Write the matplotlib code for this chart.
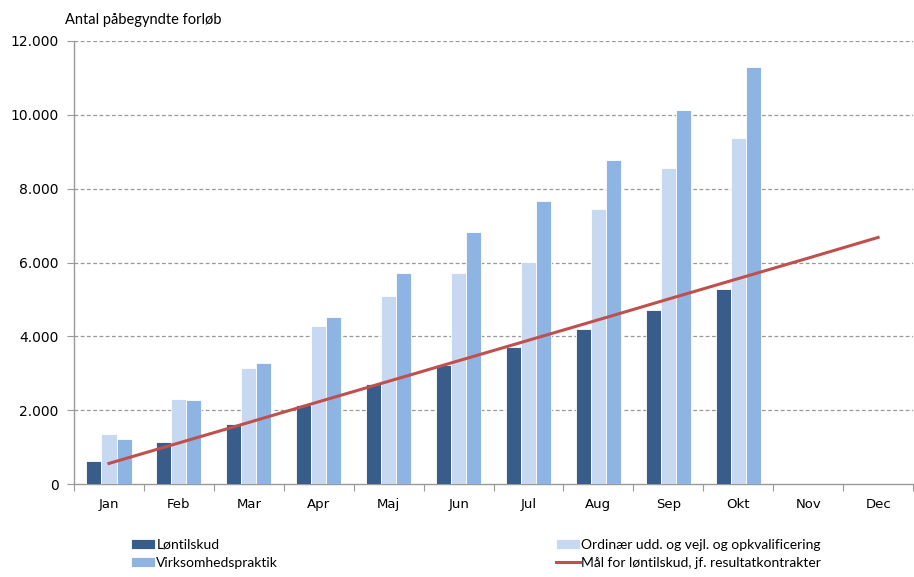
import numpy as np
import matplotlib.pyplot as plt
from matplotlib.ticker import FuncFormatter, FixedLocator

# --- Data ---
months = ["Jan", "Feb", "Mar", "Apr", "Maj", "Jun", "Jul", "Aug", "Sep", "Okt", "Nov", "Dec"]
loentilskud = [620, 1130, 1620, 2150, 2700, 3230, 3700, 4210, 4720, 5270]
ordinaer = [1350, 2300, 3150, 4280, 5100, 5710, 6010, 7450, 8560, 9370]
virksomhed = [1210, 2270, 3280, 4520, 5720, 6830, 7660, 8770, 10130, 11300]
maal = [560, 1115, 1670, 2230, 2785, 3340, 3895, 4450, 5010, 5565, 6120, 6680]

c_dark = "#385D8A"
c_light = "#C6D9F1"
c_mid = "#8EB4E3"
c_line = "#C0504D"

fig = plt.figure(figsize=(9.14, 5.77), dpi=100)
ax = fig.add_axes([0.081, 0.161, 0.918, 0.768])

x = np.arange(len(months))
n = len(loentilskud)
w = 0.215
b1 = ax.bar(x[:n] - w, loentilskud, w, color=c_dark, edgecolor="white", linewidth=0.6, zorder=3)
b2 = ax.bar(x[:n], ordinaer, w, color=c_light, edgecolor="white", linewidth=0.6, zorder=3)
b3 = ax.bar(x[:n] + w, virksomhed, w, color=c_mid, edgecolor="white", linewidth=0.6, zorder=3)
ln, = ax.plot(x, maal, color=c_line, linewidth=2.2, zorder=4)

ax.set_xlim(-0.5, len(months) - 0.5)
ax.set_ylim(0, 12000)
ax.set_yticks(np.arange(0, 12001, 2000))
ax.yaxis.set_major_formatter(FuncFormatter(lambda v, p: f"{int(v):,}".replace(",", ".")))
ax.grid(axis="y", color="#999999", linestyle=(0, (3, 2)), linewidth=0.9, zorder=0)
ygl = ax.get_ygridlines()
ygl[0].set_visible(False)

# x ticks at boundaries, labels at centres
ax.xaxis.set_major_locator(FixedLocator(np.arange(-0.5, len(months), 1.0)))
ax.xaxis.set_minor_locator(FixedLocator(x))
ax.set_xticklabels([])
ax.set_xticklabels(months, minor=True)
ax.tick_params(axis="x", which="major", length=5, color="#999999", direction="out")
ax.tick_params(axis="x", which="minor", length=0, pad=10, labelsize=9.5, labelcolor="black")
ax.tick_params(axis="y", length=5, color="#999999", labelsize=10, pad=6)

for s in ["top", "right"]:
    ax.spines[s].set_visible(False)
for s in ["left", "bottom"]:
    ax.spines[s].set_color("#999999")
    ax.spines[s].set_linewidth(1.0)

fig.text(0.071, 0.966, "Antal påbegyndte forløb", fontsize=10.5, family="Lato", ha="left", va="center")

fig.legend([b1, b3, b2, ln],
           ["Løntilskud", "Virksomhedspraktik",
            "Ordinær udd. og vejl. og opkvalificering",
            "Mål for løntilskud, jf. resultatkontrakter"],
           ncol=2, loc="lower left", bbox_to_anchor=(0.13, -0.008),
           frameon=False, prop={"family": "Lato", "size": 10},
           handlelength=1.7, handleheight=0.7, handletextpad=0.1,
           columnspacing=20, labelspacing=0.45)

fig.savefig("out.png", dpi=100)
